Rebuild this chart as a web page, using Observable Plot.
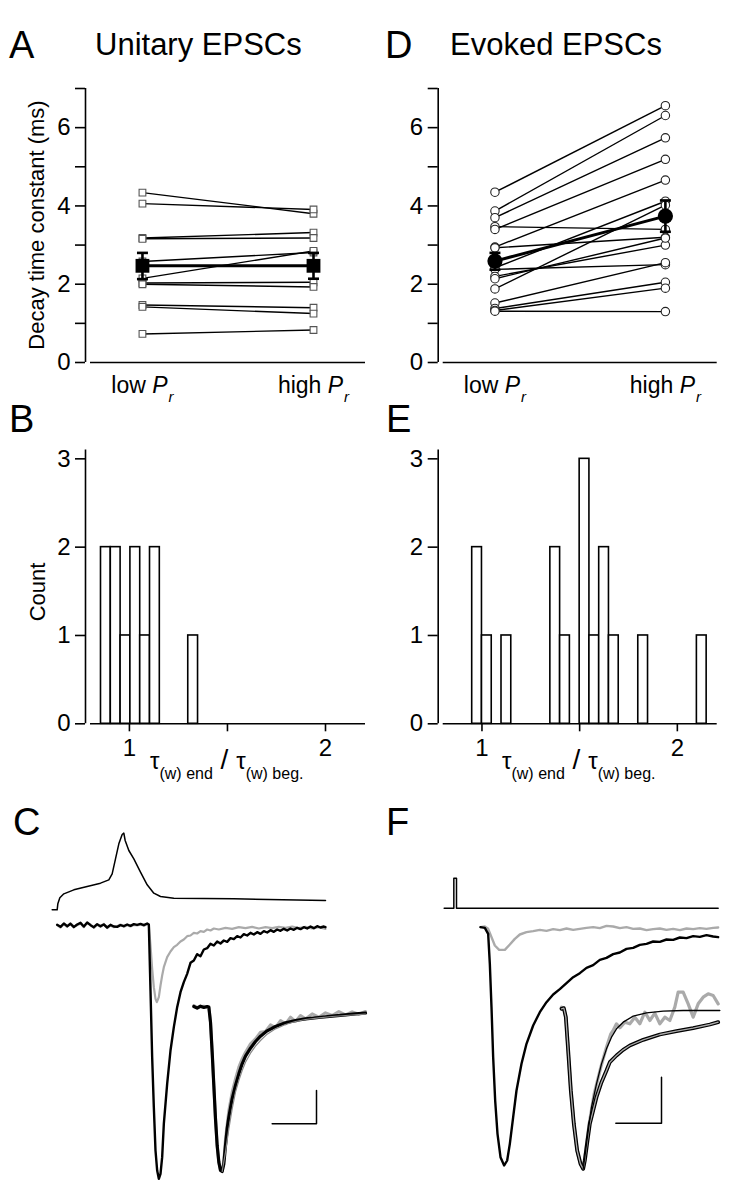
<!DOCTYPE html>
<html>
<head>
<meta charset="utf-8">
<script src="https://cdn.jsdelivr.net/npm/d3@7"></script>
<script src="https://cdn.jsdelivr.net/npm/@observablehq/plot@0.6"></script>
<style>
html,body{margin:0;padding:0;background:#fff;}
#fig{position:relative;width:752px;height:1194px;overflow:hidden;background:#fff;font-family:"Liberation Sans",Arial,Helvetica,sans-serif;color:#000;}
#fig > *{position:absolute;}
.t{line-height:1;white-space:nowrap;}
.letter{font-size:38px;}
.title{font-size:31px;}
.ylab{font-size:22px;transform:translate(-50%,-50%) rotate(-90deg);}
.xlab{font-size:24px;}
.xlab .sub{font-size:16px;vertical-align:-10px;}
.xlab .sl{font-size:28px;}
</style>
</head>
<body>
<div id="fig"></div>
<script>
// ---------------- data ----------------
const conditions = ["low P_r", "high P_r"];

// Panel A: unitary EPSC decay time constants (ms)
const unitaryLow  = [4.34, 4.06, 3.18, 3.16, 2.58, 2.15, 2.03, 2.00, 1.47, 1.42, 0.73];
const unitaryHigh = [3.80, 3.91, 3.32, 3.18, 2.81, 2.85, 2.05, 1.93, 1.40, 1.25, 0.83];
const unitaryMean = [2.47, 2.47];
const unitaryErrLo = [2.13, 2.14];
const unitaryErrHi = [2.80, 2.80];

// Panel D: evoked EPSC decay time constants (ms)
const evokedLow  = [4.35, 3.87, 3.70, 3.47, 3.40, 2.95, 2.93, 2.42, 2.38, 2.20, 2.14, 1.88, 1.52, 1.38, 1.33, 1.31];
const evokedHigh = [6.56, 6.31, 5.74, 3.40, 5.19, 4.66, 3.20, 4.12, 2.50, 3.00, 3.18, 4.02, 2.55, 2.05, 1.90, 1.30];
const evokedMean = [2.59, 3.74];
const evokedErrLo = [2.37, 3.34];
const evokedErrHi = [2.80, 4.14];

// Panel B / E: histograms of tau(end)/tau(beg)
const binWidth = 0.05;
const binStartB = [0.855, 0.905, 0.955, 1.005, 1.055, 1.105, 1.30];
const countsB   = [2, 2, 1, 2, 1, 2, 1];
const binStartE = [0.95, 1.00, 1.10, 1.35, 1.40, 1.50, 1.55, 1.60, 1.65, 1.80, 2.10];
const countsE   = [2, 1, 1, 2, 1, 3, 1, 2, 1, 1, 1];
const histTicks = [1, 1.5, 2];
const countTicks = [0, 1, 2, 3];
const tauMajorTicks = [0, 2, 4, 6];
const tauMinorTicks = [1, 3, 5, 7];

// Panel C traces: [time (ms, arbitrary origin), current (arb. units)]
const apC = [[0,4.7],[1.5,4.7],[1.7,6.5],[2.3,8.3],[3.5,9.5],[6.5,10.7],[10.5,11.7],[14.5,12.7],[17,13.7],[18,15.5],[19,20],[20,24.5],[21,27.3],[21.5,27.7],[21.9,25.5],[23,22.5],[24.5,20],[26.5,16],[28.5,12.2],[30.5,9.7],[32.5,8.7],[36.5,8.2],[54.5,8.0],[82,7.5]];
const epscGrayC = [[1.5,0.1],[2.5,-0.6],[3.5,0.4],[4.5,-0.4],[5.5,0.7],[6.5,-0.3],[7.5,0.1],[8.5,0.6],[9.5,-0.5],[10.5,0.7],[11.5,0.3],[12.5,-0.7],[13.5,0.2],[14.5,-0.4],[15.5,0.5],[16.5,-0.8],[17.5,0.0],[18.5,-0.5],[19.5,-0.2],[20.5,0.3],[21.5,-0.4],[22.5,0.1],[23.5,-0.3],[24.5,0.2],[25.5,0.0],[26.5,0.3],[27.5,-0.1],[28.5,0.4],[29,0.2],[29.5,-6],[30,-13],[30.5,-18.5],[31,-22],[31.4,-23],[32,-21.5],[32.5,-18],[33,-15],[33.5,-12.5],[34.5,-9.5],[35.5,-7.8],[36.5,-6.5],[37.5,-5.8],[38.5,-4.8],[39.5,-4.2],[40.5,-3.2],[41.5,-3.0],[42.5,-2.2],[43.5,-2.4],[44.5,-1.7],[45.5,-1.9],[46.5,-1.2],[47.5,-1.5],[48.5,-0.9],[50,-1.2],[52,-0.7],[54,-1.0],[56,-0.5],[58,-0.8],[60,-0.4],[62,-0.9],[64,-0.5],[66,-0.8],[68,-0.4],[70,-0.7],[72,-0.3],[74,-0.8],[76,-0.4],[78,-0.9],[80,-0.5],[82,-1.0]];
const epscBlackC = [[1.5,0.2],[2.5,-0.4],[3.5,0.6],[4.5,-0.2],[5.5,0.5],[6.5,-0.5],[7.5,0.3],[8.5,0.8],[9.5,-0.3],[10.5,0.9],[11.5,0.1],[12.5,-0.5],[13.5,0.4],[14.5,-0.2],[15.5,0.3],[16.5,-0.6],[17.5,0.2],[18.5,-0.3],[19.5,-0.4],[20.5,0.1],[21.5,-0.2],[22.5,0.3],[23.5,-0.1],[24.5,0.4],[25.5,0.2],[26.5,0.5],[27.5,0.1],[28.5,0.6],[29,0.3],[29.5,-19.5],[30,-39.5],[30.5,-54.5],[31,-67.5],[31.5,-73.5],[32,-76],[32.5,-74.5],[33,-69.5],[33.5,-59.5],[34.5,-47.5],[35.5,-37.5],[36.5,-30.5],[37.5,-24.5],[38.5,-20],[39.5,-17],[40.5,-14.5],[41.5,-11.2],[42.5,-10.5],[43.5,-8.6],[44.5,-9.2],[45.5,-7.2],[46.5,-6.8],[47.5,-5.5],[48.5,-6.0],[49.5,-4.8],[50.5,-5.4],[51.5,-4.5],[52.5,-4.9],[53.5,-3.8],[54.5,-4.1],[55.5,-3.2],[56.5,-3.6],[57.5,-2.6],[58.5,-3.0],[59.5,-2.2],[60.5,-2.7],[61.5,-2.0],[62.5,-2.5],[63.5,-1.7],[64.5,-2.1],[65.5,-1.4],[66.5,-1.9],[67.5,-1.2],[68.5,-1.6],[69.5,-1.0],[70.5,-1.5],[71.5,-0.9],[72.5,-1.3],[73.5,-0.7],[74.5,-1.1],[75.5,-0.5],[76.5,-0.9],[77.5,-0.3],[78.5,-0.8],[79.5,-0.2],[80.5,-0.6],[81.5,-0.3],[82,-0.5]];
const scaledBlackC = [[42.5,-24.3],[43.5,-24.8],[44.5,-24.2],[45.5,-24.6],[46.5,-24.3],[47,-24.5],[47.5,-29],[48,-38],[48.5,-48],[49,-58],[49.5,-66],[50,-71],[50.5,-73.5],[51,-73.8],[51.5,-71.5],[52,-66],[52.5,-61],[53,-57.5],[54,-52],[55,-48],[56,-44.5],[57,-41.5],[58,-39.2],[59.5,-36.8],[61,-34.8],[62.5,-33.2],[64.5,-31.6],[67,-30.3],[70,-29.2],[73,-28.5],[76,-28],[80,-27.6],[84,-27.2],[88,-26.8],[91,-26.5],[94,-26.3]];
const scaledGrayC = [[42.5,-24.0],[43.5,-24.6],[44.5,-24.4],[45.5,-24.2],[46.5,-24.6],[47,-24.3],[47.5,-29],[48,-38],[48.5,-48],[49,-58],[49.5,-66],[50,-71],[50.5,-73.5],[51,-73.8],[51.5,-70.5],[52,-64],[53,-55.5],[54,-50],[55,-46],[56,-42.5],[57,-40],[58,-38],[59.5,-35.5],[61,-34],[62.5,-32],[64,-31.8],[65.5,-29.8],[67,-30.6],[68.5,-28.5],[70,-29.5],[71.5,-27.5],[73,-28.8],[74.5,-27],[76,-28],[78,-26.5],[80,-27.5],[82,-26.2],[84,-27],[86,-25.8],[88,-26.8],[90,-25.9],[92,-26.6],[94,-25.8]];
const scaledFitC = [[51,-73.8],[52,-68],[53,-61],[54,-55],[55,-50],[56,-46.5],[57,-43.5],[58,-41],[59.5,-38.3],[61,-36.2],[62.5,-34.5],[64.5,-32.6],[67,-31],[70,-29.7],[73,-28.8],[76,-28.2],[80,-27.7],[84,-27.3],[88,-27],[92,-26.7],[94,-26.6]];
const scaleBarC = [[66,-59.5],[79.3,-59.5],[79.3,-49.5]];

// Panel F traces
const stimF = [[0,5.7],[2.9,5.7],[2.9,14.7],[3.7,14.7],[3.7,5.7],[82.2,5.7]];
const grayF = [[10.9,0],[12.2,0.2],[13.2,-0.5],[14.2,-3],[15.2,-5.5],[16.5,-6.8],[18.2,-6.8],[19.7,-5.2],[21.2,-3.5],[22.7,-2.2],[24.7,-1.5],[26.7,-1.2],[28.7,-0.8],[30.7,-1.1],[32.7,-0.6],[34.7,-0.9],[36.7,-0.4],[38.7,-0.8],[40.7,-0.5],[42.7,-0.2],[44.7,0],[46.7,-0.3],[48.7,0.4],[50.7,0.2],[52.7,-0.3],[54.7,0],[56.7,-0.5],[58.7,-0.4],[60.7,-0.9],[62.7,-0.6],[64.7,-0.4],[66.7,-0.8],[68.7,-0.5],[70.7,-0.9],[72.7,-0.4],[74.7,-0.6],[76.7,-0.3],[78.7,-0.5],[80.7,-0.2],[82.2,-0.1]];
const blackF = [[10.9,0],[12.2,-0.2],[13.2,-2],[13.7,-11],[14.2,-24],[14.7,-39],[15.3,-52],[16,-62],[16.9,-69],[18,-71.5],[18.9,-70],[19.7,-65],[20.7,-57],[21.7,-49],[23.2,-41],[24.7,-35],[26.7,-29.5],[28.7,-25.5],[30.7,-22.5],[32.7,-20.2],[34.7,-18.6],[36.7,-16.8],[38.7,-15],[40.7,-13.8],[42.7,-12.2],[44.7,-11.4],[46.7,-9.8],[48.7,-9.2],[50.7,-8.1],[52.7,-7.6],[54.7,-6.5],[56.7,-6.2],[58.7,-5.3],[60.7,-5.0],[62.7,-4.3],[64.7,-4.4],[66.7,-3.7],[68.7,-3.8],[70.7,-3.1],[72.7,-3.3],[74.7,-2.7],[76.7,-2.9],[78.7,-2.4],[80.7,-2.8],[82.2,-3.0]];
const scaledSlowF = [[35.2,-24.5],[35.9,-24.3],[36.5,-27],[37.2,-37],[38,-49],[38.9,-59],[39.9,-67],[40.9,-71],[41.7,-72.5],[42.2,-70],[43,-64],[43.7,-59],[44.7,-55],[45.7,-51],[47.2,-46.5],[48.7,-43],[49.7,-40.5],[51.7,-38.5],[53.7,-36.8],[55.7,-35.5],[59.7,-33.8],[64.7,-32.2],[69.7,-31.2],[74.7,-30.3],[79.7,-29.2],[82.2,-28.5]];
const fastFitF = [[41.7,-72.5],[42.2,-69],[42.7,-65],[43.5,-59],[44.2,-54],[45.7,-47],[47.2,-41],[48.7,-36.5],[50.2,-33],[51.7,-30.5],[53.7,-28.5],[56.7,-26.7],[60.7,-25.7],[65.7,-25.2],[71.7,-25.0],[82.7,-25.0]];
const scaledGrayF = [[35.2,-24],[35.9,-24.4],[36.5,-27],[37.2,-37],[38,-49],[38.9,-59],[39.9,-67],[40.9,-71],[41.7,-72.5],[42.2,-69],[43.5,-59],[45,-50],[47,-42],[48.7,-36],[50,-32],[50.7,-31],[51.7,-29],[52.7,-30.2],[54.2,-28.5],[55.7,-29],[57.2,-27],[58.7,-29],[60.2,-25.5],[61.7,-28],[63.2,-25.8],[64.7,-29],[66.2,-27],[67.7,-28],[69.2,-24],[70.2,-19.5],[71.7,-19.5],[73.2,-23],[74.7,-27],[76.2,-23],[77.7,-21],[79.2,-20],[80.7,-20.5],[82.2,-23]];
const scaleBarF = [[51.5,-58.8],[65.2,-58.8],[65.2,-45]];

// ---------------- helpers ----------------
const FONT = '"Liberation Sans", Arial, Helvetica, sans-serif';
const NS = "http://www.w3.org/2000/svg";
const fig = document.getElementById("fig");
const capSymbol = {draw(ctx, size) { const w = Math.sqrt(size) / 2; ctx.moveTo(-w, 0); ctx.lineTo(w, 0); }};
const intFmt = d => String(d);
const TICK_FS = 24;

function put(el, left, top) { el.style.left = left + "px"; el.style.top = top + "px"; fig.appendChild(el); return el; }
function txt(cls, html, left, top) { const d = document.createElement("div"); d.className = "t " + cls; d.innerHTML = html; return put(d, left, top); }

function fixSubscripts(svg) {
  svg.querySelectorAll("text").forEach(t => {
    const m = t.textContent.match(/^(.*) P_r$/);
    if (!m) return;
    t.textContent = "";
    t.appendChild(document.createTextNode(m[1] + " "));
    const p = document.createElementNS(NS, "tspan");
    p.setAttribute("font-style", "italic"); p.textContent = "P"; t.appendChild(p);
    const r = document.createElementNS(NS, "tspan");
    r.setAttribute("font-style", "italic"); r.setAttribute("font-size", "15"); r.setAttribute("dy", "9"); r.setAttribute("dx", "1"); r.textContent = "r"; t.appendChild(r);
  });
}

const condDomain = [-0.333, 1.304];
const tauDomain = [0, 7];
const histXDomain = [0.776, 2.204];
const histYDomain = [0, 3.1];

function pairedPlot(low, high, mean, errLo, errHi, symbol, rSmall, rMean, strokeSmall, margins) {
  const rows = low.map((v, i) => ({lo: v, hi: high[i], a: 0, b: 1}));
  const pts = rows.flatMap(r => [{c: 0, v: r.lo}, {c: 1, v: r.hi}]);
  const means = mean.map((m, i) => ({c: i, m, lo: errLo[i], hi: errHi[i]}));
  const svg = Plot.plot({
    width: 376, height: 330, ...margins, marginTop: 18, marginBottom: 38,
    style: {fontFamily: FONT, fontSize: "22px", background: "transparent", overflow: "visible", color: "#000"},
    x: {domain: condDomain},
    y: {domain: tauDomain},
    marks: [
      Plot.ruleY([0], {insetLeft: 5, strokeWidth: 1.6}),
      Plot.ruleX([condDomain[0]], {y1: tauDomain[0], y2: tauDomain[1], strokeWidth: 1.6}),
      Plot.axisY({ticks: tauMajorTicks, tickSize: 10, tickPadding: 5, fontSize: TICK_FS, tickFormat: intFmt, label: null, strokeWidth: 1.6}),
      Plot.axisY({ticks: tauMinorTicks, tickSize: 10, tickFormat: () => "", label: null, strokeWidth: 1.6}),
      Plot.axisX({ticks: [0, 1], tickSize: 0, tickPadding: 14.5, fontSize: 23, tickFormat: i => conditions[i], label: null}),
      Plot.link(rows, {x1: "a", x2: "b", y1: "lo", y2: "hi", stroke: "#000", strokeWidth: 1.4}),
      Plot.dot(pts, {x: "c", y: "v", symbol, r: rSmall, fill: "white", stroke: strokeSmall, strokeWidth: 1.1}),
      Plot.line(means, {x: "c", y: "m", stroke: "#000", strokeWidth: 3}),
      Plot.ruleX(means, {x: "c", y1: "lo", y2: "hi", stroke: "#000", strokeWidth: 2.6}),
      Plot.dot(means, {x: "c", y: "lo", symbol: capSymbol, r: 6.2, fill: "none", stroke: "#000", strokeWidth: 2.6}),
      Plot.dot(means, {x: "c", y: "hi", symbol: capSymbol, r: 6.2, fill: "none", stroke: "#000", strokeWidth: 2.6}),
      Plot.dot(means, {x: "c", y: "m", symbol, r: rMean, fill: "#000", stroke: "none"})
    ]
  });
  fixSubscripts(svg);
  return svg;
}

function histPlot(starts, counts, margins) {
  const bins = starts.map((s, i) => ({x1: s, x2: s + binWidth, n: counts[i]}));
  return Plot.plot({
    width: 376, height: 390, ...margins, marginTop: 49.5, marginBottom: 66.7,
    style: {fontFamily: FONT, fontSize: "22px", background: "transparent", overflow: "visible", color: "#000"},
    x: {domain: histXDomain},
    y: {domain: histYDomain},
    marks: [
      Plot.rectY(bins, {x1: "x1", x2: "x2", y: "n", inset: 0, fill: "white", stroke: "#000", strokeWidth: 1.6}),
      Plot.ruleY([0], {insetLeft: 5, strokeWidth: 1.6}),
      Plot.ruleX([histXDomain[0]], {y1: histYDomain[0], y2: histYDomain[1], strokeWidth: 1.6}),
      Plot.axisY({ticks: countTicks, tickSize: 10, tickPadding: 5, fontSize: TICK_FS, tickFormat: intFmt, label: null, strokeWidth: 1.6}),
      Plot.axisX({ticks: histTicks, tickSize: 8, tickPadding: 7.5, fontSize: TICK_FS, tickFormat: d => (d === 1.5 ? "" : String(d)), label: null, strokeWidth: 1.6})
    ]
  });
}

function tracePlot(xDomain, yDomain, marks) {
  return Plot.plot({
    width: 376, height: 404, margin: 0,
    style: {background: "transparent", overflow: "visible"},
    x: {domain: xDomain, axis: null},
    y: {domain: yDomain, axis: null},
    marks
  });
}

// ---------------- panels ----------------
put(pairedPlot(unitaryLow, unitaryHigh, unitaryMean, unitaryErrLo, unitaryErrHi, "square", 3.8, 7.8, "#555", {marginLeft: 85, marginRight: 11}), 0, 70);
put(pairedPlot(evokedLow, evokedHigh, evokedMean, evokedErrLo, evokedErrHi, "circle", 4.2, 7.6, "#222", {marginLeft: 61.7, marginRight: 35.3}), 376, 70);
put(histPlot(binStartB, countsB, {marginLeft: 85, marginRight: 11}), 0, 400);
put(histPlot(binStartE, countsE, {marginLeft: 61.7, marginRight: 35.3}), 376, 400);

put(tracePlot([-15.5, 97.3], [-80.7, 40.5], [
  Plot.line(apC, {stroke: "#000", strokeWidth: 1.5}),
  Plot.line(epscGrayC, {stroke: "#aaa", strokeWidth: 2.2}),
  Plot.line(epscBlackC, {stroke: "#000", strokeWidth: 2.4}),
  Plot.line(scaledGrayC, {stroke: "#aaa", strokeWidth: 3}),
  Plot.line(scaledBlackC, {stroke: "#000", strokeWidth: 3.2}),
  Plot.line(scaledFitC, {stroke: "#888", strokeWidth: 1.2}),
  Plot.line(scaleBarC, {stroke: "#000", strokeWidth: 1.5})
]), 0, 790);

put(tracePlot([-20.3, 92.5], [-80.2, 41], [
  Plot.line(stimF, {stroke: "#000", strokeWidth: 1.5}),
  Plot.line(grayF, {stroke: "#aaa", strokeWidth: 2.4}),
  Plot.line(blackF, {stroke: "#000", strokeWidth: 2.4}),
  Plot.line(scaledGrayF, {stroke: "#aaa", strokeWidth: 3.2}),
  Plot.line(scaledSlowF, {stroke: "#000", strokeWidth: 3.8}),
  Plot.line(scaledSlowF, {stroke: "#aaa", strokeWidth: 1.3}),
  Plot.line(fastFitF, {stroke: "#000", strokeWidth: 1.3}),
  Plot.line(scaleBarF, {stroke: "#000", strokeWidth: 1.5})
]), 376, 790);

// ---------------- text ----------------
txt("letter", "A", 9, 25.8);
txt("title", "Unitary EPSCs", 95, 28.8);
txt("letter", "D", 385, 25.8);
txt("title", "Evoked EPSCs", 450, 28.8);
txt("letter", "B", 9, 399.8);
txt("letter", "E", 386, 399.8);
txt("letter", "C", 13, 802.8);
txt("letter", "F", 386, 802.8);
txt("ylab", "Decay time constant (ms)", 37, 225);
txt("ylab", "Count", 38, 592);
const xl = 'τ<span class="sub">(w) end</span><span class="sl"> / </span>τ<span class="sub">(w) beg.</span>';
txt("xlab", xl, 150, 746);
txt("xlab", xl, 502, 746);
</script>
</body>
</html>
